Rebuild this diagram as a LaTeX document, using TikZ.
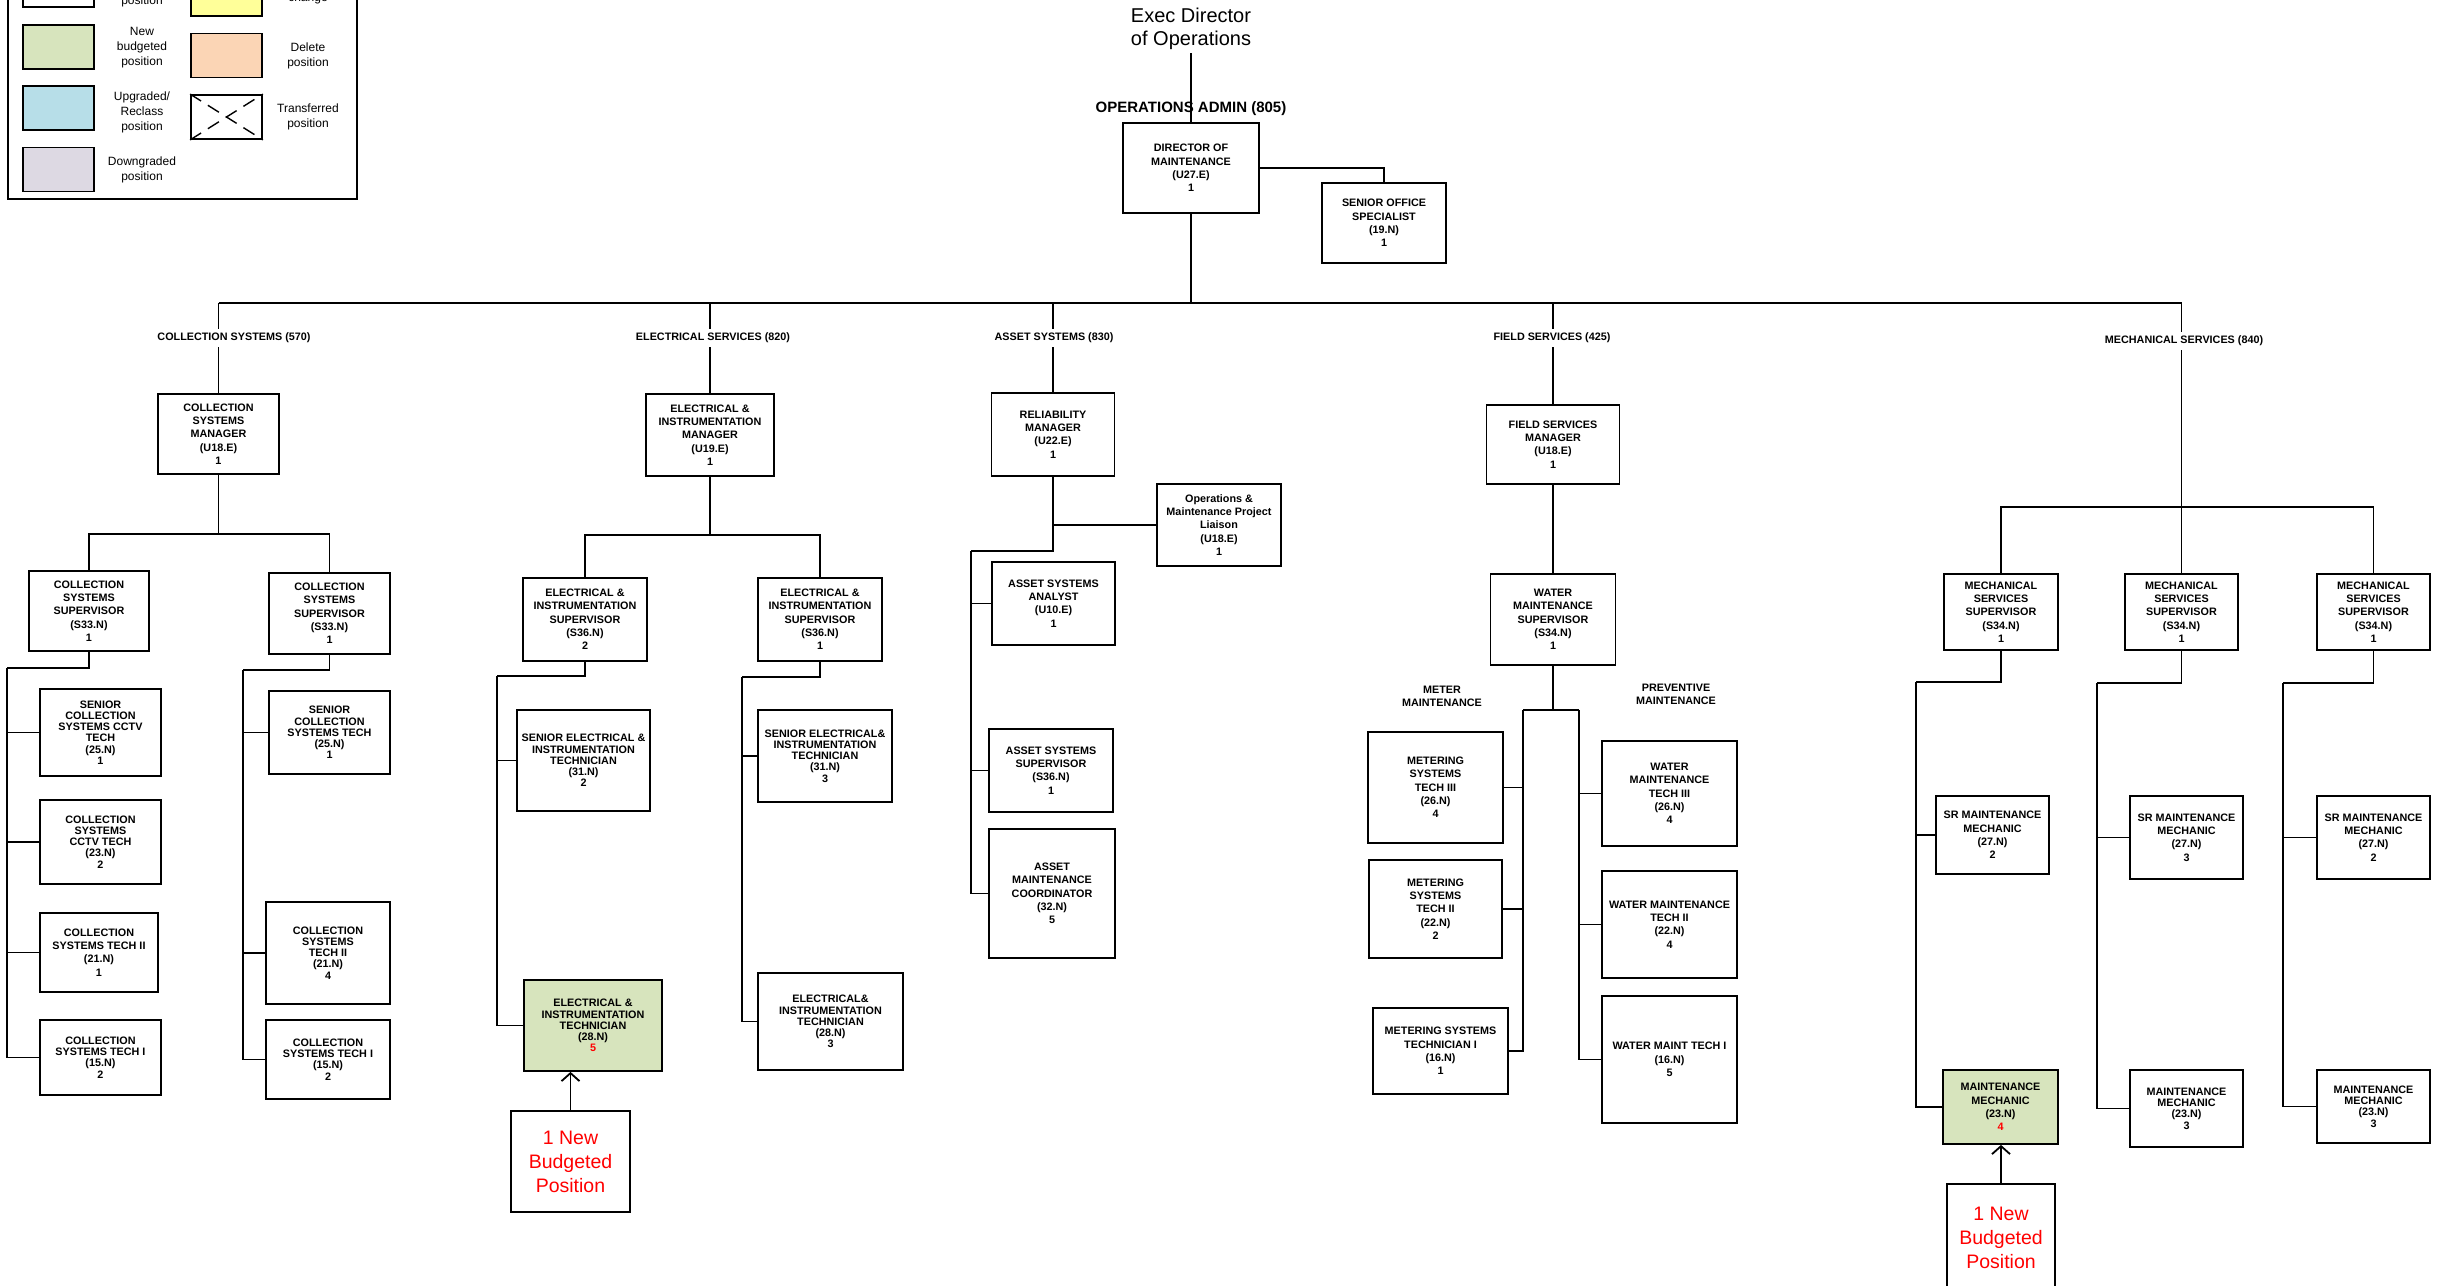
\documentclass[tikz,border=0pt]{standalone}
\usepackage{fontspec}
\setmainfont{Liberation Sans}
\usetikzlibrary{arrows.meta, positioning}

\definecolor{newgreen}{HTML}{D7E4BD}
\definecolor{chgyellow}{HTML}{FFFF99}
\definecolor{delorange}{HTML}{FBD5B5}
\definecolor{upblue}{HTML}{B7DEE8}
\definecolor{downpurple}{HTML}{DDD9E3}
\definecolor{newred}{HTML}{FF0000}

\tikzset{
  wh/.style 2 args={minimum width=#1pt, minimum height=#2pt},
  job/.style={draw, line width=1.8pt, align=center, inner sep=1pt,
    font=\bfseries\fontsize{10.8}{13.3}\selectfont},
  techjob/.style={job, font=\bfseries\fontsize{10.8}{11.2}\selectfont},
  dept/.style={align=center, inner sep=4pt, font=\bfseries\fontsize{10.8}{13}\selectfont},
  link/.style={line width=1.1pt},
  newnote/.style={draw, line width=1.8pt, align=center, text=newred,
    font=\fontsize{19.5}{24}\selectfont},
  newarrow/.style={line width=1.8pt, -{Straight Barb[length=8pt, width=18pt]}},
  keybox/.style={draw, line width=1.8pt, wh={71}{44}},
  keytext/.style={align=center, font=\fontsize{12}{15}\selectfont},
}

\begin{document}
\begin{tikzpicture}[x=1pt, y=-1pt]

\fill[white, use as bounding box] (0,0) rectangle (2441,1285);

% key
\draw[line width=2pt] (8,-40) rectangle (357,199);
\node[keybox] (kcur) at (58.5,-15) {};
\node[keybox, fill=newgreen] (knew) at (58.5,47) {};
\node[keybox, fill=upblue] (kup) at (58.5,108) {};
\node[keybox, fill=downpurple] (kdown) at (58.5,169.5) {};
\node[keybox, fill=chgyellow] (kchg) at (226.5,-6) {};
\node[keybox, fill=delorange] (kdel) at (226.5,55.5) {};
\node[keybox] (kxfer) at (226.5,117) {};
\draw[line width=1.4pt, dash pattern=on 13pt off 8pt]
  (kxfer.north west) -- (kxfer.south east) (kxfer.south west) -- (kxfer.north east);
\node[keytext, anchor=base] (kcurt) at (142,4) {position};
\node[keytext] (knewt) at (142,48) {New\\budgeted\\position};
\node[keytext] (kupt) at (142,112) {Upgraded/\\Reclass\\position};
\node[keytext] (kdownt) at (142,169.5) {Downgraded\\position};
\node[keytext, anchor=base] (kchgt) at (308,1) {change};
\node[keytext] (kdelt) at (308,56) {Delete\\position};
\node[keytext] (kxfert) at (308,117) {Transferred\\position};

% top of the chart
\node[align=center, font=\fontsize{20}{23}\selectfont] (exec) at (1191,29) {Exec Director\\of Operations};
\node[font=\bfseries\fontsize{15}{18}\selectfont] (opsadmin) at (1191,109) {OPERATIONS ADMIN (805)};
\node[job, wh={136}{90}] (dir) at (1191,168) {DIRECTOR OF\\MAINTENANCE\\(U27.E)\\1};
\node[job, wh={124}{80}] (sos) at (1384,223) {SENIOR OFFICE\\SPECIALIST\\(19.N)\\1};
\coordinate (bus) at (1191,303);

\node[dept] (cs) at (234,338) {COLLECTION SYSTEMS (570)};
\node[dept] (es) at (713,338) {ELECTRICAL SERVICES (820)};
\node[dept] (as) at (1054,338) {ASSET SYSTEMS (830)};
\node[dept] (fs) at (1552,338) {FIELD SERVICES (425)};
\node[dept] (ms) at (2184,341) {MECHANICAL SERVICES (840)};

% collection systems
\node[job, wh={121}{80}] (csm) at (218.5,434) {COLLECTION\\SYSTEMS\\MANAGER\\(U18.E)\\1};
\node[job, wh={120}{80}] (css1) at (89,611) {COLLECTION\\SYSTEMS\\SUPERVISOR\\(S33.N)\\1};
\node[job, wh={121}{81}] (css2) at (329.5,613.5) {COLLECTION\\SYSTEMS\\SUPERVISOR\\(S33.N)\\1};
\node[techjob, wh={121}{87}] (cst1) at (100.5,732.5) {SENIOR\\COLLECTION\\SYSTEMS CCTV\\TECH\\(25.N)\\1};
\node[techjob, wh={121}{84}] (cst2) at (100.5,842) {COLLECTION\\SYSTEMS\\CCTV TECH\\(23.N)\\2};
\node[job, wh={118}{79}] (cst3) at (99,952.5) {COLLECTION\\SYSTEMS TECH II\\(21.N)\\1};
\node[techjob, wh={121}{75}] (cst4) at (100.5,1057.5) {COLLECTION\\SYSTEMS TECH I\\(15.N)\\2};
\node[techjob, wh={121}{83}] (cst5) at (329.5,732.5) {SENIOR\\COLLECTION\\SYSTEMS TECH\\(25.N)\\1};
\node[techjob, wh={124}{102}] (cst6) at (328,953) {COLLECTION\\SYSTEMS\\TECH II\\(21.N)\\4};
\node[techjob, wh={124}{79}] (cst7) at (328,1059.5) {COLLECTION\\SYSTEMS TECH I\\(15.N)\\2};

% electrical services
\node[job, wh={128}{82}] (eim) at (710,435) {ELECTRICAL \&\\INSTRUMENTATION\\MANAGER\\(U19.E)\\1};
\node[job, wh={124}{83}] (eis1) at (585,619.5) {ELECTRICAL \&\\INSTRUMENTATION\\SUPERVISOR\\(S36.N)\\2};
\node[job, wh={124}{83}] (eis2) at (820,619.5) {ELECTRICAL \&\\INSTRUMENTATION\\SUPERVISOR\\(S36.N)\\1};
\node[techjob, wh={133}{101}] (eit1) at (583.5,760.5) {SENIOR ELECTRICAL \&\\INSTRUMENTATION\\TECHNICIAN\\(31.N)\\2};
\node[techjob, wh={138}{91}, fill=newgreen] (eit2) at (593,1025.5) {ELECTRICAL \&\\INSTRUMENTATION\\TECHNICIAN\\(28.N)\\\textcolor{newred}{5}};
\node[techjob, wh={134}{92}] (eit3) at (825,756) {SENIOR ELECTRICAL\&\\INSTRUMENTATION\\TECHNICIAN\\(31.N)\\3};
\node[techjob, wh={145}{97}] (eit4) at (830.5,1021.5) {ELECTRICAL\&\\INSTRUMENTATION\\TECHNICIAN\\(28.N)\\3};
\node[newnote, wh={119}{101}] (enew) at (570.5,1161.5) {1 New\\Budgeted\\Position};

% asset systems
\node[job, wh={123}{83}] (rm) at (1053,434.5) {RELIABILITY\\MANAGER\\(U22.E)\\1};
\node[job, wh={124}{82}] (lia) at (1219,525) {Operations \&\\Maintenance Project\\Liaison\\(U18.E)\\1};
\node[job, wh={123}{83}] (asa) at (1053.5,603.5) {ASSET SYSTEMS\\ANALYST\\(U10.E)\\1};
\node[job, wh={124}{83}] (ass) at (1051,770.5) {ASSET SYSTEMS\\SUPERVISOR\\(S36.N)\\1};
\node[job, wh={126}{129}] (amc) at (1052,893.5) {ASSET\\MAINTENANCE\\COORDINATOR\\(32.N)\\5};

% field services
\node[job, wh={133}{79}] (fsm) at (1553,444.5) {FIELD SERVICES\\MANAGER\\(U18.E)\\1};
\node[job, wh={125}{91}] (wms) at (1553,619.5) {WATER\\MAINTENANCE\\SUPERVISOR\\(S34.N)\\1};
\node[dept] (meterlbl) at (1442,696) {METER\\MAINTENANCE};
\node[dept] (prevlbl) at (1676,694) {PREVENTIVE\\MAINTENANCE};
\node[job, wh={135}{111}] (mst3) at (1435.5,787.5) {METERING\\SYSTEMS\\TECH III\\(26.N)\\4};
\node[job, wh={133}{98}] (mst2) at (1435.5,909) {METERING\\SYSTEMS\\TECH II\\(22.N)\\2};
\node[job, wh={135}{86}] (mst1) at (1440.5,1051) {METERING SYSTEMS\\TECHNICIAN I\\(16.N)\\1};
\node[job, wh={135}{105}] (wmt3) at (1669.5,793.5) {WATER\\MAINTENANCE\\TECH III\\(26.N)\\4};
\node[job, wh={135}{107}] (wmt2) at (1669.5,924.5) {WATER MAINTENANCE\\TECH II\\(22.N)\\4};
\node[job, wh={135}{127}] (wmt1) at (1669.5,1059.5) {WATER MAINT TECH I\\(16.N)\\5};

% mechanical services
\node[job, wh={114}{76}] (mss1) at (2001,612) {MECHANICAL\\SERVICES\\SUPERVISOR\\(S34.N)\\1};
\node[job, wh={113}{76}] (mss2) at (2181.5,612) {MECHANICAL\\SERVICES\\SUPERVISOR\\(S34.N)\\1};
\node[job, wh={113}{76}] (mss3) at (2373.5,612) {MECHANICAL\\SERVICES\\SUPERVISOR\\(S34.N)\\1};
\node[job, wh={113}{78}] (smm1) at (1992.5,835) {SR MAINTENANCE\\MECHANIC\\(27.N)\\2};
\node[job, wh={113}{83}] (smm2) at (2186.5,837.5) {SR MAINTENANCE\\MECHANIC\\(27.N)\\3};
\node[job, wh={113}{83}] (smm3) at (2373.5,837.5) {SR MAINTENANCE\\MECHANIC\\(27.N)\\2};
\node[job, wh={115}{74}, fill=newgreen] (mmc1) at (2000.5,1107) {MAINTENANCE\\MECHANIC\\(23.N)\\\textcolor{newred}{4}};
\node[techjob, wh={113}{77}] (mmc2) at (2186.5,1108.5) {MAINTENANCE\\MECHANIC\\(23.N)\\3};
\node[techjob, wh={113}{73}] (mmc3) at (2373.5,1106.5) {MAINTENANCE\\MECHANIC\\(23.N)\\3};
\node[newnote, wh={108}{108}] (mnew) at (2001,1238) {1 New\\Budgeted\\Position};

% connectors
\draw[link] (exec) -- (dir);
\draw[link] (dir.east) -| (sos.north);
\draw[link, line width=1.6pt] (dir) -- (bus);
\draw[link, line width=1.6pt] (csm |- bus) -- (bus);
\draw[link, line width=2.4pt] (bus) -- (mss2 |- bus);
\foreach \d/\m in {cs/csm, es/eim, as/rm, fs/fsm, ms/mss2}
  \draw[link] (\m |- bus) -- (\m |- \d.north) (\m |- \d.south) -- (\m);

\coordinate (cbus) at (218.5,534);
\draw[link] (csm) -- (cbus);
\draw[link] (css1.north) |- (cbus) -| (css2.north);
\coordinate (crail1) at (7,668);
\draw[link] (css1.south) |- (crail1);
\foreach \t in {cst1,cst2,cst3,cst4}
  \draw[link] (crail1) |- (\t.west);
\coordinate (crail2) at (243,670);
\draw[link] (css2.south) |- (crail2);
\foreach \t in {cst5,cst6,cst7}
  \draw[link] (crail2) |- (\t.west);

\coordinate (ebus) at (710,535);
\draw[link] (eim) -- (ebus);
\draw[link] (eis1.north) |- (ebus) -| (eis2.north);
\coordinate (erail1) at (497,676);
\draw[link] (eis1.south) |- (erail1);
\foreach \t in {eit1,eit2}
  \draw[link] (erail1) |- (\t.west);
\coordinate (erail2) at (742,677);
\draw[link] (eis2.south) |- (erail2);
\foreach \t in {eit3,eit4}
  \draw[link] (erail2) |- (\t.west);
\draw[newarrow] (enew.north) -- (enew.north |- eit2.south);

\coordinate (arail) at (971,551);
\draw[link] (rm.south) |- (lia.west);
\draw[link] (rm.south) |- (arail);
\foreach \t in {asa,ass,amc}
  \draw[link] (arail) |- (\t.west);

\draw[link] (fsm) -- (wms);
\coordinate (frail) at (1553,710);
\coordinate (meterrail) at (1523,710);
\coordinate (prevrail) at (1579,710);
\draw[link] (wms) -- (frail);
\draw[link] (meterrail) -- (prevrail);
\foreach \t in {mst3,mst2,mst1}
  \draw[link] (meterrail) |- (\t.east);
\foreach \t in {wmt3,wmt2,wmt1}
  \draw[link] (prevrail) |- (\t.west);

\coordinate (mbus) at (2181.5,507);
\draw[link] (mss1.north) |- (mbus) -| (mss3.north);
\coordinate (mrail1) at (1916,682);
\coordinate (mrail2) at (2097,683);
\coordinate (mrail3) at (2283,683);
\draw[link] (mss1.south) |- (mrail1);
\draw[link] (mss2.south) |- (mrail2);
\draw[link] (mss3.south) |- (mrail3);
\foreach \r/\a/\b in {mrail1/smm1/mmc1, mrail2/smm2/mmc2, mrail3/smm3/mmc3} {
  \draw[link] (\r) |- (\a.west);
  \draw[link] (\r) |- (\b.west);
}
\draw[newarrow] (mnew.north) -- (mnew.north |- mmc1.south);

\end{tikzpicture}
\end{document}
